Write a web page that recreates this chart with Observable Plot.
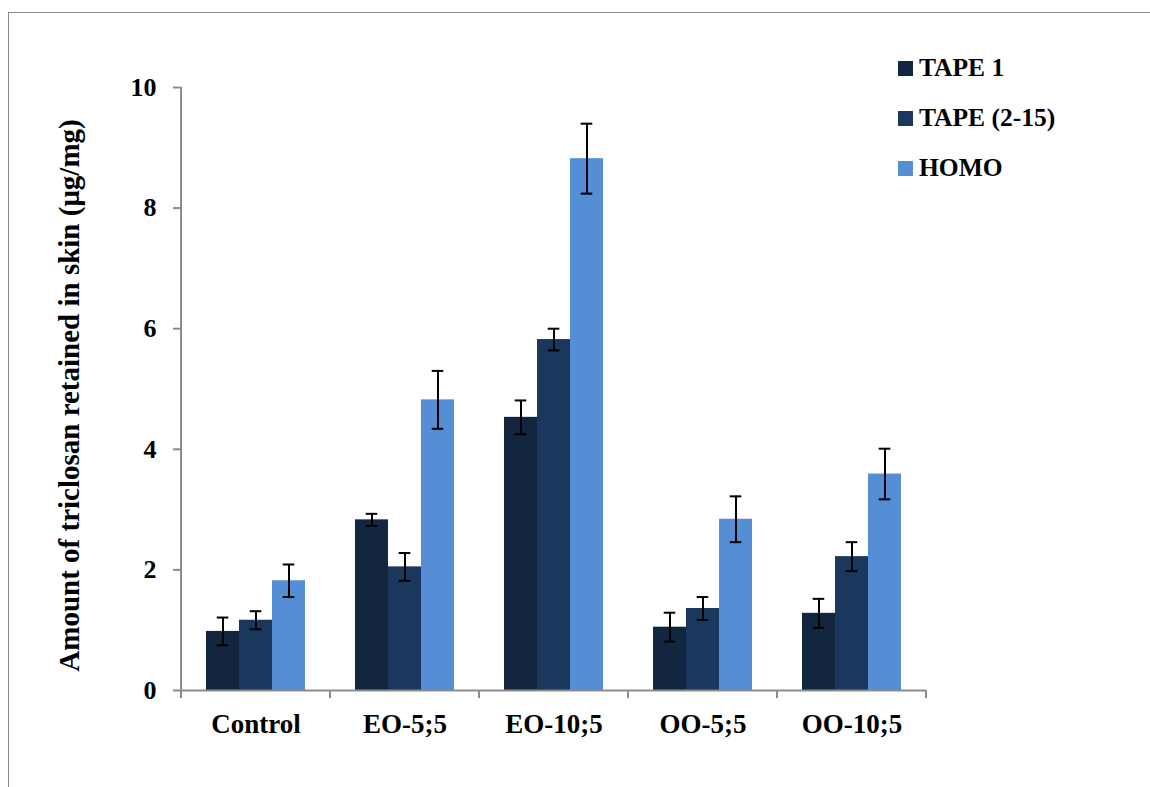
<!DOCTYPE html>
<html><head><meta charset="utf-8">
<script src="https://cdn.jsdelivr.net/npm/d3@7"></script>
<script src="https://cdn.jsdelivr.net/npm/@observablehq/plot@0.6"></script>
<style>
body{margin:0;background:#fff;}
#wrap{position:relative;width:1150px;height:787px;overflow:hidden;background:#fff;}
#border{position:absolute;left:8px;top:12px;width:1200px;height:900px;border:1.5px solid #8a8a8a;box-sizing:border-box;}
#chart{position:absolute;left:0;top:0;}
#legend{position:absolute;left:898px;top:43px;font:bold 25.5px "Liberation Serif",serif;color:#000;}
.item{display:flex;align-items:center;height:50px;white-space:nowrap;}
.sw{width:15px;height:15px;margin-right:6px;}
</style></head>
<body>
<div id="wrap"><div id="border"></div><div id="chart"></div><div id="legend"></div></div>
<script>
const categories = ["Control","EO-5;5","EO-10;5","OO-5;5","OO-10;5"];
const series = ["TAPE 1","TAPE (2-15)","HOMO"];
const colors = ["#13263f","#1a375e","#558ed5"];
const tape1 = [0.98,2.83,4.53,1.05,1.28];
const tape1Err = [0.23,0.10,0.28,0.24,0.24];
const tape215 = [1.165,2.05,5.82,1.36,2.22];
const tape215Err = [0.15,0.23,0.18,0.19,0.24];
const homo = [1.82,4.82,8.82,2.84,3.59];
const homoErr = [0.27,0.48,0.58,0.38,0.42];
const yTicks = [0,2,4,6,8,10];
const yLabel = "Amount of triclosan retained in skin (\u03bcg/mg)";

const values = [tape1,tape215,homo];
const errs = [tape1Err,tape215Err,homoErr];
const data = [];
categories.forEach((c,i)=>series.forEach((s,j)=>{
  data.push({cat:c, series:s, value:values[j][i], lo:values[j][i]-errs[j][i], hi:values[j][i]+errs[j][i]});
}));

const chart = Plot.plot({
  width:1150, height:787,
  marginLeft:180, marginRight:223, marginTop:87, marginBottom:97,
  style:{fontFamily:"'Liberation Serif', serif", fontWeight:"bold", fontSize:"26px", color:"#000", background:"transparent"},
  fx:{domain:categories, padding:0, label:null},
  x:{domain:series, paddingInner:0, paddingOuter:0.743, axis:null},
  y:{domain:[0,10], axis:null},
  color:{domain:series, range:colors},
  marks:[
    Plot.barY(data,{fx:"cat", x:"series", y:"value", fill:"series"}),
    Plot.ruleX(data,{fx:"cat", x:"series", y1:"lo", y2:"hi", stroke:"#000", strokeWidth:2}),
    Plot.tickY(data,{fx:"cat", x:"series", y:"hi", stroke:"#000", strokeWidth:2, insetLeft:10.7, insetRight:10.7}),
    Plot.tickY(data,{fx:"cat", x:"series", y:"lo", stroke:"#000", strokeWidth:2, insetLeft:10.7, insetRight:10.7}),
    Plot.ruleY([0],{stroke:"#8c8c8c", strokeWidth:2}),
    Plot.axisY({ticks:yTicks, tickFormat:d=>String(d), tickSize:8, tickPadding:17, stroke:"#8c8c8c", strokeWidth:2, fill:"#000", label:null}),
    Plot.axisFx({anchor:"bottom", tickSize:0, tickPadding:23, fill:"#000", fontSize:27, label:null})
  ]
});
document.getElementById("chart").appendChild(chart);

const svg = d3.select(chart);
const fx = chart.scale("fx"), y = chart.scale("y");
const y0 = y.apply(0), y10 = y.apply(10);
const x0 = fx.apply(categories[0]);
const bounds = categories.map(c=>fx.apply(c)).concat([fx.apply(categories[categories.length-1]) + fx.bandwidth]);
svg.append("line").attr("x1",x0).attr("x2",x0).attr("y1",y0).attr("y2",y10)
  .attr("stroke","#8c8c8c").attr("stroke-width",2);
svg.selectAll("line.bt").data(bounds).join("line").attr("class","bt")
  .attr("x1",d=>d).attr("x2",d=>d).attr("y1",y0).attr("y2",y0+8)
  .attr("stroke","#8c8c8c").attr("stroke-width",2);
svg.append("text").attr("transform",`translate(72,${(y0+y10)/2+7}) rotate(-90)`)
  .attr("text-anchor","middle").attr("dominant-baseline","middle")
  .attr("font-size",29).attr("font-weight","bold").attr("fill","#000").text(yLabel);

const legend = d3.select("#legend");
series.forEach((s,i)=>{
  const it = legend.append("div").attr("class","item");
  it.append("div").attr("class","sw").style("background",colors[i]);
  it.append("span").text(s);
});
</script>
</body></html>
